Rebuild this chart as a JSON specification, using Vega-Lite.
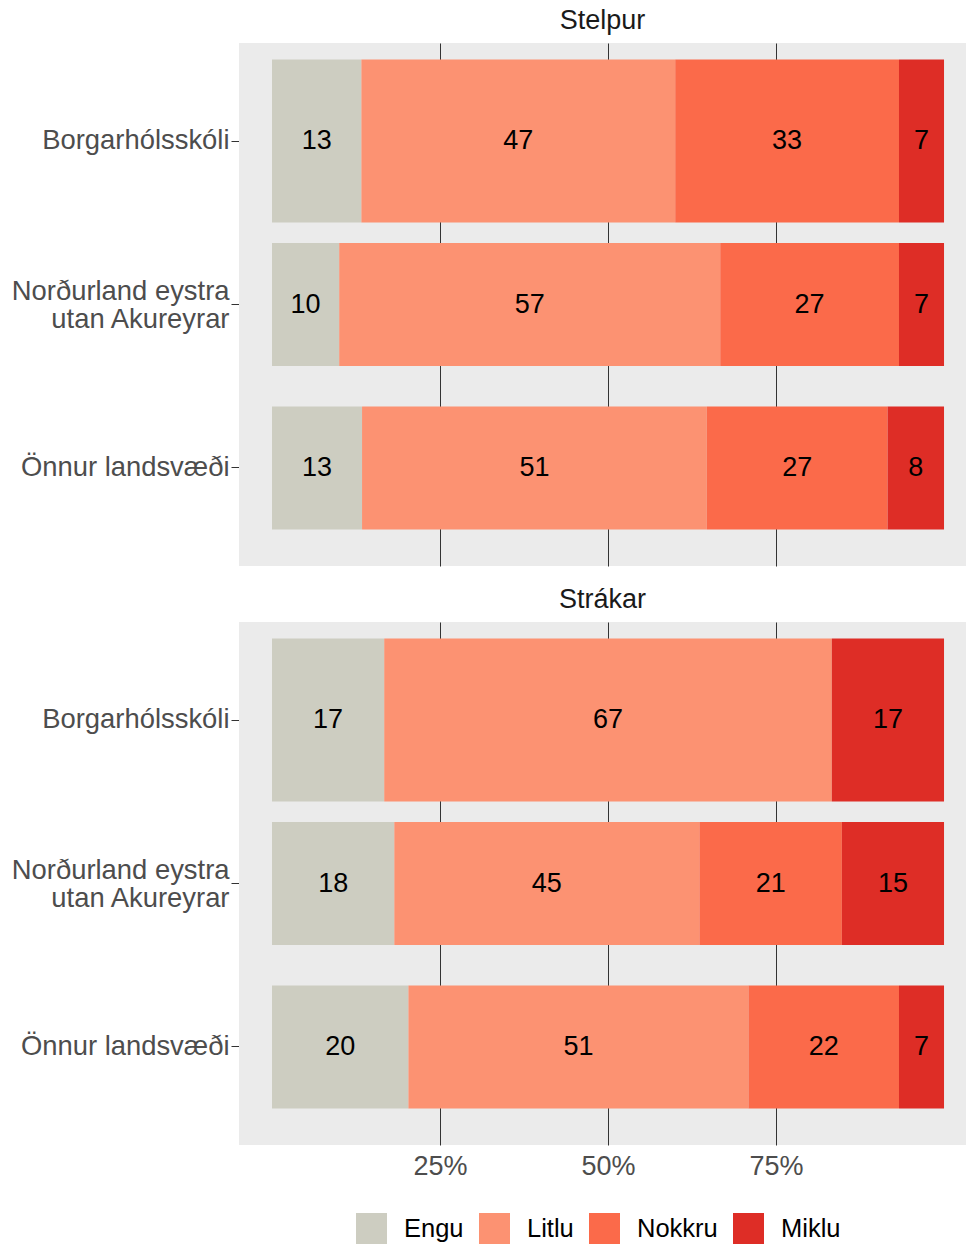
{
  "$schema": "https://vega.github.io/schema/vega-lite/v6.json",
  "background": "white",
  "padding": {"left": 11, "top": 7, "right": 0, "bottom": 0},
  "data": {
    "values": [
      {"kyn": "Stelpur", "svaedi": "Borgarhólsskóli", "flokkur": "Skóli", "svar": "Engu", "rod": 1, "hlutfall": 13.3},
      {"kyn": "Stelpur", "svaedi": "Borgarhólsskóli", "flokkur": "Skóli", "svar": "Litlu", "rod": 2, "hlutfall": 46.7},
      {"kyn": "Stelpur", "svaedi": "Borgarhólsskóli", "flokkur": "Skóli", "svar": "Nokkru", "rod": 3, "hlutfall": 33.3},
      {"kyn": "Stelpur", "svaedi": "Borgarhólsskóli", "flokkur": "Skóli", "svar": "Miklu", "rod": 4, "hlutfall": 6.7},
      {"kyn": "Stelpur", "svaedi": "Norðurland eystra\nutan Akureyrar", "flokkur": "Samanburður", "svar": "Engu", "rod": 1, "hlutfall": 10.0},
      {"kyn": "Stelpur", "svaedi": "Norðurland eystra\nutan Akureyrar", "flokkur": "Samanburður", "svar": "Litlu", "rod": 2, "hlutfall": 56.7},
      {"kyn": "Stelpur", "svaedi": "Norðurland eystra\nutan Akureyrar", "flokkur": "Samanburður", "svar": "Nokkru", "rod": 3, "hlutfall": 26.6},
      {"kyn": "Stelpur", "svaedi": "Norðurland eystra\nutan Akureyrar", "flokkur": "Samanburður", "svar": "Miklu", "rod": 4, "hlutfall": 6.7},
      {"kyn": "Stelpur", "svaedi": "Önnur landsvæði", "flokkur": "Samanburður", "svar": "Engu", "rod": 1, "hlutfall": 13.4},
      {"kyn": "Stelpur", "svaedi": "Önnur landsvæði", "flokkur": "Samanburður", "svar": "Litlu", "rod": 2, "hlutfall": 51.3},
      {"kyn": "Stelpur", "svaedi": "Önnur landsvæði", "flokkur": "Samanburður", "svar": "Nokkru", "rod": 3, "hlutfall": 26.9},
      {"kyn": "Stelpur", "svaedi": "Önnur landsvæði", "flokkur": "Samanburður", "svar": "Miklu", "rod": 4, "hlutfall": 8.4},
      {"kyn": "Strákar", "svaedi": "Borgarhólsskóli", "flokkur": "Skóli", "svar": "Engu", "rod": 1, "hlutfall": 16.7},
      {"kyn": "Strákar", "svaedi": "Borgarhólsskóli", "flokkur": "Skóli", "svar": "Litlu", "rod": 2, "hlutfall": 66.6},
      {"kyn": "Strákar", "svaedi": "Borgarhólsskóli", "flokkur": "Skóli", "svar": "Miklu", "rod": 4, "hlutfall": 16.7},
      {"kyn": "Strákar", "svaedi": "Norðurland eystra\nutan Akureyrar", "flokkur": "Samanburður", "svar": "Engu", "rod": 1, "hlutfall": 18.2},
      {"kyn": "Strákar", "svaedi": "Norðurland eystra\nutan Akureyrar", "flokkur": "Samanburður", "svar": "Litlu", "rod": 2, "hlutfall": 45.4},
      {"kyn": "Strákar", "svaedi": "Norðurland eystra\nutan Akureyrar", "flokkur": "Samanburður", "svar": "Nokkru", "rod": 3, "hlutfall": 21.2},
      {"kyn": "Strákar", "svaedi": "Norðurland eystra\nutan Akureyrar", "flokkur": "Samanburður", "svar": "Miklu", "rod": 4, "hlutfall": 15.2},
      {"kyn": "Strákar", "svaedi": "Önnur landsvæði", "flokkur": "Samanburður", "svar": "Engu", "rod": 1, "hlutfall": 20.3},
      {"kyn": "Strákar", "svaedi": "Önnur landsvæði", "flokkur": "Samanburður", "svar": "Litlu", "rod": 2, "hlutfall": 50.6},
      {"kyn": "Strákar", "svaedi": "Önnur landsvæði", "flokkur": "Samanburður", "svar": "Nokkru", "rod": 3, "hlutfall": 22.4},
      {"kyn": "Strákar", "svaedi": "Önnur landsvæði", "flokkur": "Samanburður", "svar": "Miklu", "rod": 4, "hlutfall": 6.7}
    ]
  },
  "facet": {
    "field": "kyn",
    "type": "nominal",
    "sort": ["Stelpur", "Strákar"],
    "header": {
      "title": null,
      "labelFont": "Liberation Sans",
      "labelFontSize": 27,
      "labelColor": "#1A1A1A",
      "labelPadding": 8
    }
  },
  "columns": 1,
  "spacing": 20,
  "spec": {
    "width": 727,
    "height": 523,
    "encoding": {
      "y": {
        "field": "svaedi",
        "type": "nominal",
        "sort": ["Borgarhólsskóli", "Norðurland eystra\nutan Akureyrar", "Önnur landsvæði"],
        "scale": {"paddingInner": 0, "paddingOuter": 0.1},
        "axis": {
          "title": null,
          "domain": false,
          "ticks": true,
          "tickSize": 8,
          "tickColor": "#333333",
          "tickWidth": 1,
          "labelPadding": 2,
          "labelFontSize": 27.4,
          "labelColor": "#4D4D4D",
          "labelLineHeight": 28,
          "labelLimit": 500,
          "labelOffset": {"condition": {"test": "indexof(datum.value, '\\n') >= 0", "value": -13}, "value": 0},
          "labelExpr": "split(datum.label, '\\n')",
          "grid": false
        }
      }
    },
    "layer": [
      {
        "mark": {"type": "bar"},
        "encoding": {
          "x": {
            "field": "hlutfall",
            "type": "quantitative",
            "stack": "zero",
            "scale": {"domain": [-4.91, 103.27], "nice": false, "zero": false},
            "axis": {
              "title": null,
              "values": [25, 50, 75],
              "labelExpr": "datum.value + '%'",
              "domain": false,
              "ticks": false,
              "tickSize": 0,
              "labelPadding": 8,
              "labelFontSize": 27,
              "labelColor": "#4D4D4D",
              "grid": true,
              "gridColor": "#333333",
              "gridWidth": 1
            }
          },
          "color": {
            "field": "svar",
            "type": "nominal",
            "scale": {
              "domain": ["Engu", "Litlu", "Nokkru", "Miklu"],
              "range": ["#CDCDC1", "#FC9272", "#FB6A4A", "#DE2D26"]
            },
            "legend": {
              "title": null,
              "orient": "none",
              "legendX": 117,
              "legendY": 1170,
              "direction": "horizontal",
              "symbolType": "square",
              "symbolSize": 961,
              "symbolStrokeWidth": 0,
              "labelFontSize": 25.5,
              "labelColor": "#000000",
              "labelOffset": 17,
              "columnPadding": 15
            }
          },
          "order": {"field": "rod", "type": "quantitative"},
          "size": {
            "field": "flokkur",
            "type": "ordinal",
            "scale": {"domain": ["Skóli", "Samanburður"], "range": [163, 123]},
            "legend": null
          }
        }
      },
      {
        "mark": {"type": "text", "fontSize": 27, "color": "#000000", "align": "center", "baseline": "middle"},
        "encoding": {
          "x": {"field": "hlutfall", "type": "quantitative", "stack": "zero", "bandPosition": 0.5},
          "text": {"field": "hlutfall", "type": "quantitative", "format": ".0f"},
          "order": {"field": "rod", "type": "quantitative"}
        }
      }
    ]
  },
  "config": {
    "font": "Liberation Sans",
    "view": {"fill": "#EBEBEB", "stroke": null},
    "axis": {"labelFont": "Liberation Sans"},
    "legend": {"labelFont": "Liberation Sans"}
  }
}
